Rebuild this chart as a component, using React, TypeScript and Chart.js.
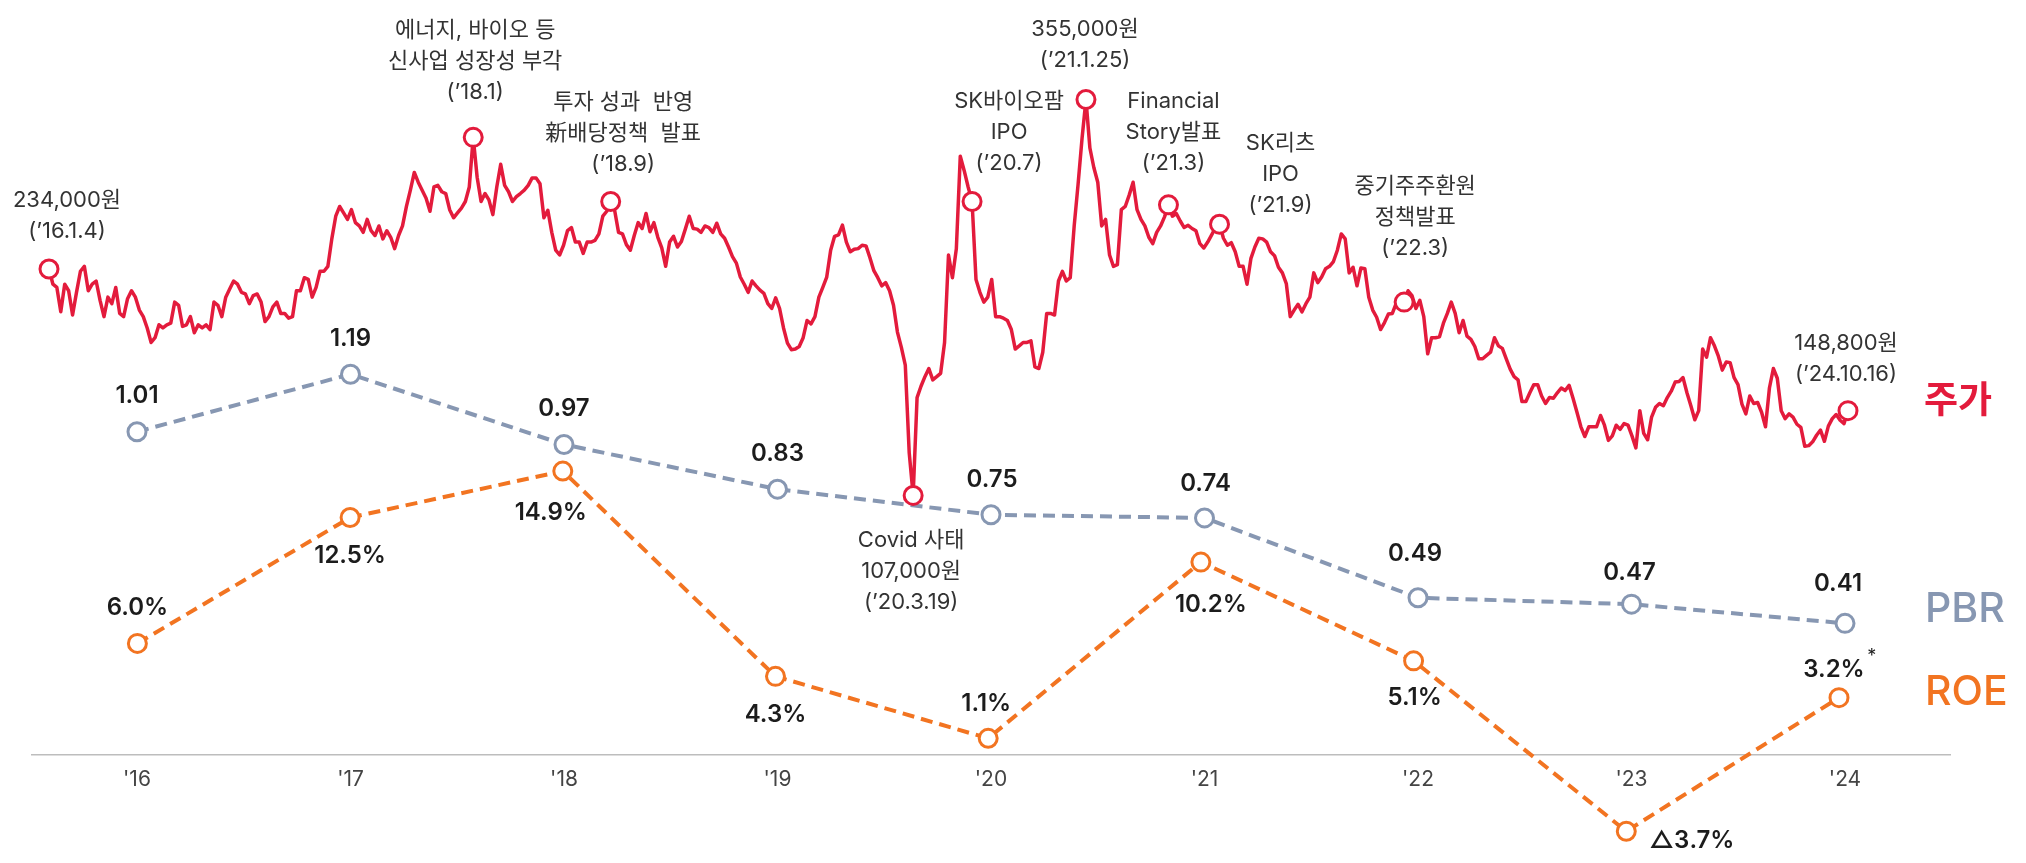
import React, { useEffect, useRef } from 'react';
import { Chart, registerables } from 'chart.js';

Chart.register(...registerables);

// ---------- DATA ----------
const yearLabels = ["'16", "'17", "'18", "'19", "'20", "'21", "'22", "'23", "'24"];
const pbrValues = [1.01, 1.19, 0.97, 0.83, 0.75, 0.74, 0.49, 0.47, 0.41];
const roeValues = [6.0, 12.5, 14.9, 4.3, 1.1, 10.2, 5.1, -3.7, 3.2];
const roeLabels = ['6.0%', '12.5%', '14.9%', '4.3%', '1.1%', '10.2%', '5.1%', '△3.7%', '3.2%'];
const roeFootnoteIndex = 8;

// weekly closing price (천원), '16.1.4 ~ '24.10.16
const stockPrices = [
  248.8, 239.3, 237.3, 222.0, 239.3, 235.2, 220.0, 234.2, 247.4, 250.5,
  235.2, 239.3, 241.3, 229.2, 219.0, 231.2, 227.1, 237.3, 221.0, 219.0,
  230.2, 235.2, 231.2, 223.1, 219.0, 211.9, 202.8, 205.8, 213.9, 211.9,
  213.9, 214.9, 228.1, 226.1, 212.9, 213.9, 219.0, 208.9, 213.9, 211.9,
  213.9, 210.9, 228.1, 226.1, 219.0, 231.2, 236.3, 241.3, 239.3, 234.2,
  233.2, 227.1, 232.2, 233.2, 228.1, 215.9, 219.0, 225.1, 228.1, 221.0,
  221.0, 218.0, 219.0, 235.2, 235.2, 243.4, 242.3, 231.2, 237.3, 247.4,
  247.4, 250.5, 267.7, 281.9, 288.0, 284.0, 279.9, 286.0, 277.9, 275.8,
  271.8, 279.9, 272.8, 269.8, 275.8, 267.7, 272.8, 268.7, 261.6, 269.8,
  275.8, 288.0, 298.2, 309.3, 303.2, 298.2, 293.1, 285.0, 300.2, 301.2,
  297.2, 296.1, 286.0, 280.9, 284.0, 287.0, 291.1, 300.2, 331.3, 306.3,
  291.1, 296.1, 292.1, 282.9, 300.2, 314.4, 301.2, 297.2, 291.1, 294.1,
  296.1, 298.2, 301.2,
  305.9, 305.9, 302.2, 280.9, 285.6, 271.8, 260.6, 257.6, 263.7, 272.8,
  274.8, 265.7, 265.7, 258.6, 265.7, 265.7, 266.7, 270.8, 281.9, 285.0,
  291.1, 285.6, 271.8, 270.8, 264.1, 260.6, 269.8, 277.9, 274.2, 283.6,
  272.2, 277.9, 268.7, 262.0, 250.5, 265.7, 269.3, 262.6, 266.1, 273.8,
  281.9, 274.2, 273.8, 271.8, 275.8, 274.8, 271.8, 277.5, 270.8, 268.1,
  262.6, 256.6, 252.5, 243.8, 239.3, 234.2, 241.3, 238.3, 235.6, 233.6,
  227.1, 224.1, 230.8, 224.1, 211.9, 202.4, 198.3, 198.7, 200.3, 205.8,
  216.6, 214.5, 219.0, 231.2, 237.3, 243.8, 260.6, 269.3, 270.2, 276.3,
  265.7, 259.6, 261.2, 261.6, 263.7, 263.3, 255.9, 247.8, 243.4, 238.3,
  240.3, 235.2, 226.1, 209.3, 199.7, 188.6, 133.7, 107.0, 168.3, 175.4,
  181.4, 186.5, 179.4, 181.4, 183.5, 202.8, 257.6, 243.4, 261.6, 319.5,
  310.4, 300.2, 291.1, 242.3, 234.2, 228.1, 231.2, 242.3, 219.0, 219.0,
  218.0, 216.6, 210.9, 198.7,
  200.7, 202.8, 202.8, 203.8, 187.5, 186.5, 196.7, 221.0, 221.0, 220.0,
  241.3, 247.4, 241.3, 243.4, 275.8, 302.2, 330.7, 355.0, 324.6, 312.4,
  303.2, 275.8, 279.9, 257.6, 250.5, 251.5, 286.0, 288.0, 295.1, 303.2,
  286.0, 279.9, 275.8, 268.7, 264.7, 271.8, 275.8, 281.5, 289.0, 281.9,
  283.6, 278.9, 274.8, 276.2, 274.2, 272.8, 264.7, 262.0, 265.7, 270.2,
  274.8, 276.9, 268.1, 263.7, 265.3, 259.6, 250.5, 250.5, 239.3, 255.5,
  262.6, 268.1, 267.7, 265.7, 259.6, 257.2, 249.9, 246.4, 239.7, 219.0,
  223.1, 226.7, 222.0, 227.1, 231.2, 246.4, 240.3, 243.8, 249.0, 250.5,
  253.5, 260.6, 270.8, 267.7, 246.4, 249.9, 238.3, 249.5, 249.0, 231.2,
  223.1, 218.6, 210.9, 215.3, 220.6, 221.0, 227.5, 229.2, 228.1, 235.2,
  232.2, 224.1, 229.2, 219.0, 195.7, 205.8, 205.8, 206.4, 214.9, 221.0,
  228.1, 221.0, 208.9, 216.6, 206.8, 204.8, 200.3, 192.6, 192.6, 194.7,
  196.7, 205.8, 200.7, 199.1, 192.6,
  186.1, 181.4, 179.4, 165.8, 165.8, 171.3, 176.4, 176.4, 169.3, 164.6,
  168.3, 167.9, 171.3, 174.3, 172.7, 176.0, 167.9, 159.1, 150.0, 143.9,
  150.0, 150.0, 150.0, 157.1, 151.0, 141.5, 144.3, 151.0, 148.4, 152.0,
  151.0, 144.3, 136.8, 160.1, 145.9, 141.9, 156.1, 162.2, 164.6, 163.2,
  168.3, 172.3, 178.0, 178.4, 180.8, 171.3, 163.2, 154.4, 160.1, 198.7,
  193.6, 205.8, 200.7, 194.2, 185.5, 190.6, 190.2, 180.8, 176.4, 164.2,
  158.1, 169.3, 164.6, 165.2, 159.1, 150.0, 174.3, 186.5, 180.4, 160.1,
  155.1, 158.1, 156.1, 151.6, 149.6, 137.8, 138.2, 140.6, 144.7, 147.9,
  140.9, 150.4, 155.1, 157.7, 154.1, 152.0, 160.1,
];

// annotated events (week index into stockPrices) and their texts
const eventWeeks = [0, 108, 143, 220, 235, 264, 285, 298, 345, 458];
const eventTexts = [
  ['234,000원', '(’16.1.4)'],
  ['에너지, 바이오 등', '신사업 성장성 부각', '(’18.1)'],
  ['투자 성과  반영', '新배당정책  발표', '(’18.9)'],
  ['Covid 사태', '107,000원', '(’20.3.19)'],
  ['SK바이오팜', 'IPO', '(’20.7)'],
  ['355,000원', '(’21.1.25)'],
  ['Financial', 'Story발표', '(’21.3)'],
  ['SK리츠', 'IPO', '(’21.9)'],
  ['중기주주환원', '정책발표', '(’22.3)'],
  ['148,800원', '(’24.10.16)'],
];

// ---------- STYLE / LAYOUT ----------
const RED = '#E31B3C';
const PBR_COLOR = '#8797B2';
const ROE_COLOR = '#F27421';
const TEXT_DARK = '#1c1c1c';
const TEXT_NOTE = '#333333';
const FONT = 'Inter, "Noto Sans CJK KR", sans-serif';
const MARKER_R = 9;

const eventOffsets = [
  [18, -69], [2, -107], [12.5, -99], [-2, 45], [37, -100],
  [-1, -70], [5, -103], [61, -81], [11, -116], [-2, -67],
];
const pbrLabelOffsets = [
  [0, -36], [0, -35], [0, -35.5], [0, -35.7], [1, -35], [1, -34], [-3, -44], [-2, -31], [-7, -40],
];
const roeLabelOffsets = [
  [0, -35.5], [0, 38], [-12, 41.6], [0, 38.5], [-2, -35], [10, 43], [1, 37], [23, 10], [-5, -28],
];

const textPlugin = {
  id: 'textPlugin',
  afterDraw(chart: any) {
    const { ctx, scales, chartArea } = chart;
    const { x, y, xs, ys, xr, yr } = scales;
    ctx.save();
    ctx.textAlign = 'center';
    ctx.textBaseline = 'middle';

    // event annotations
    ctx.font = `400 22px ${FONT}`;
    ctx.fillStyle = TEXT_NOTE;
    eventWeeks.forEach((w, i) => {
      const px = xs.getPixelForValue(w);
      const py = ys.getPixelForValue(stockPrices[w]);
      const [dx, dy] = eventOffsets[i];
      eventTexts[i].forEach((line, k) => ctx.fillText(line, px + dx, py + dy + k * 31));
    });

    // PBR value labels
    ctx.font = `600 24px ${FONT}`;
    ctx.fillStyle = TEXT_DARK;
    pbrValues.forEach((v, i) => {
      const [dx, dy] = pbrLabelOffsets[i];
      ctx.fillText(v.toFixed(2), x.getPixelForValue(i) + dx, y.getPixelForValue(v) + dy);
    });

    // ROE value labels
    roeValues.forEach((v, i) => {
      const [dx, dy] = roeLabelOffsets[i];
      const px = xr.getPixelForValue(i) + dx;
      const py = yr.getPixelForValue(v) + dy;
      ctx.font = `600 24px ${FONT}`;
      if (v < 0) {
        ctx.textAlign = 'left';
        ctx.fillText(roeLabels[i], px, py);
        ctx.textAlign = 'center';
      } else {
        ctx.fillText(roeLabels[i], px, py);
      }
      if (i === roeFootnoteIndex) {
        const w = ctx.measureText(roeLabels[i]).width;
        ctx.font = `400 18px ${FONT}`;
        ctx.fillText('*', px + w / 2 + 7, py - 13);
      }
    });

    // series names on the right
    const lx = chartArea.right - 26;
    ctx.textAlign = 'left';
    ctx.font = 'bold 37px "Noto Sans CJK KR", sans-serif';
    ctx.fillStyle = RED;
    ctx.fillText('주가', lx, ys.getPixelForValue(stockPrices[stockPrices.length - 1]) - 12);
    ctx.font = `500 41px ${FONT}`;
    ctx.fillStyle = PBR_COLOR;
    ctx.fillText('PBR', lx + 1, y.getPixelForValue(pbrValues[pbrValues.length - 1]) - 14);
    ctx.fillStyle = ROE_COLOR;
    ctx.fillText('ROE', lx + 1, yr.getPixelForValue(roeValues[roeValues.length - 1]) - 5);
    ctx.restore();
  },
};

export default function App() {
  const canvasRef = useRef<HTMLCanvasElement>(null);

  useEffect(() => {
    const canvas = canvasRef.current;
    if (!canvas) return;
    const chart = new Chart(canvas, {
      type: 'line',
      data: {
        datasets: [
          {
            label: '주가',
            data: stockPrices.map((p, i) => ({ x: i, y: p })),
            xAxisID: 'xs',
            yAxisID: 'ys',
            borderColor: RED,
            borderWidth: 3.5,
            borderJoinStyle: 'round',
            tension: 0,
            pointRadius: (c: any) => (eventWeeks.includes(c.dataIndex) ? MARKER_R : 0),
            pointBorderWidth: 3,
            pointBorderColor: RED,
            pointBackgroundColor: '#ffffff',
            clip: false,
          } as any,
          {
            label: 'PBR',
            data: pbrValues.map((v, i) => ({ x: i, y: v })),
            xAxisID: 'x',
            yAxisID: 'y',
            borderColor: PBR_COLOR,
            borderWidth: 4,
            borderDash: [12, 7],
            tension: 0,
            pointRadius: MARKER_R,
            pointBorderWidth: 3,
            pointBorderColor: PBR_COLOR,
            pointBackgroundColor: '#ffffff',
            clip: false,
          } as any,
          {
            label: 'ROE',
            data: roeValues.map((v, i) => ({ x: i, y: v })),
            xAxisID: 'xr',
            yAxisID: 'yr',
            borderColor: ROE_COLOR,
            borderWidth: 4,
            borderDash: [12, 7],
            tension: 0,
            pointRadius: MARKER_R,
            pointBorderWidth: 3,
            pointBorderColor: ROE_COLOR,
            pointBackgroundColor: '#ffffff',
            clip: false,
          } as any,
        ],
      },
      options: {
        responsive: false,
        animation: false,
        devicePixelRatio: 1,
        events: [],
        layout: { padding: { left: 32, right: 76, top: 0, bottom: 0 } },
        plugins: { legend: { display: false }, tooltip: { enabled: false } },
        scales: {
          x: {
            type: 'linear',
            position: { y: 0 } as any,
            min: -0.4918,
            max: 8.4918,
            grid: { display: false, drawTicks: false },
            border: { display: true, color: '#bdbdbd', width: 1.5 },
            afterBuildTicks: (scale: any) => {
              scale.ticks = yearLabels.map((_, i) => ({ value: i }));
            },
            ticks: {
              autoSkip: false,
              maxRotation: 0,
              padding: 13,
              color: '#444444',
              font: { family: 'Inter', size: 21, weight: 'normal' },
              callback: (v: any) => yearLabels[v] ?? '',
            },
          },
          xs: { type: 'linear', display: false, min: -4.328, max: 483.97 },
          xr: { type: 'linear', display: false, min: -0.4955, max: 8.5219 },
          y: { type: 'linear', display: false, min: -0.3029, max: 2.3242 },
          ys: { type: 'linear', display: false, min: -115.7, max: 409.8 },
          yr: { type: 'linear', display: false, min: -4.719, max: 38.604 },
        },
      } as any,
      plugins: [textPlugin],
    });
    return () => chart.destroy();
  }, []);

  return (
    <div style={{ position: 'absolute', left: 0, top: 0, width: 2026, height: 863, background: '#ffffff' }}>
      <canvas ref={canvasRef} width={2026} height={863} style={{ display: 'block', width: 2026, height: 863 }} />
    </div>
  );
}
